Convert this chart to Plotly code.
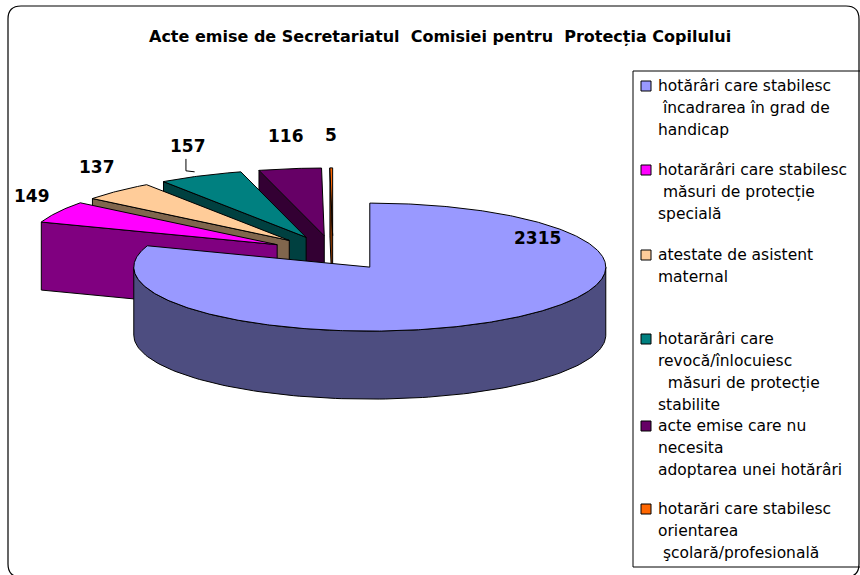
import numpy as np
import plotly.graph_objects as go

# ---------------- data ----------------
title_text = "Acte emise de Secretariatul\u00a0 Comisiei pentru\u00a0 Protecția Copilului"
legend_labels = [
    "hotărâri care stabilesc<br>\u00a0încadrarea în grad de<br>handicap",
    "hotarărâri care stabilesc<br>\u00a0măsuri de protecție<br>specială",
    "atestate de asistent<br>maternal",
    "hotarărâri care<br>revocă/înlocuiesc<br>\u00a0\u00a0măsuri de protecție<br>stabilite",
    "acte emise care nu<br>necesita<br>adoptarea unei hotărâri",
    "hotarări care stabilesc<br>orientarea<br>\u00a0şcolară/profesională",
]
values = [2315, 149, 137, 157, 116, 5]
top_colors = ["#9999FF", "#FF00FF", "#FFCC99", "#008080", "#660066", "#FF6600"]
side_colors = ["#4D4D80", "#800080", "#80664D", "#004040", "#330033", "#803300"]

# ---------------- geometry (pixel-like axis units) ----------------
CX, CY = 333.0, 253.0      # pie centre
A, B = 236.0, 64.0         # ellipse semi-axes of top face
H = 68.0                   # pie thickness
EXPLODE = 0.27
BACK_SCALE = 1.06          # exploded back slices drawn slightly larger

total = float(sum(values))
angles = np.cumsum([0.0] + [v / total * 360.0 for v in values])


def rim(apex, th, sc=1.0, r=1.0):
    t = np.radians(th)
    return apex[0] + r * sc * A * np.sin(t), apex[1] - r * sc * B * np.cos(t)


slices = []
for i, v in enumerate(values):
    ts, te = angles[i], angles[i + 1]
    mid = (ts + te) / 2
    apex = (CX + EXPLODE * A * np.sin(np.radians(mid)),
            CY - EXPLODE * B * np.cos(np.radians(mid)))
    sc = 1.0 if v == max(values) else BACK_SCALE
    slices.append(dict(i=i, ts=ts, te=te, mid=mid, apex=apex, sc=sc))

fig = go.Figure()


def poly(xs, ys, fill):
    fig.add_trace(go.Scatter(
        x=list(xs) + [xs[0]], y=list(ys) + [ys[0]], mode="lines", fill="toself",
        fillcolor=fill, line=dict(color="black", width=1),
        hoverinfo="skip", showlegend=False))


# back to front
for s in sorted(slices, key=lambda s: s["apex"][1]):
    i, ts, te, apex, sc = s["i"], s["ts"], s["te"], s["apex"], s["sc"]
    ax, ay = apex
    walls = []
    if np.cos(np.radians(ts - 90)) < -1e-6:
        walls.append(ts)
    if np.cos(np.radians(te + 90)) < -1e-6:
        walls.append(te)
    for th in walls:
        rx, ry = rim(apex, th, sc)
        poly([ax, rx, rx, ax], [ay, ry, ry + H, ay + H], side_colors[i])
    lo, hi = max(ts, 90.0), min(te, 270.0)
    if lo < hi:
        th = np.linspace(lo, hi, 120)
        xt, yt = rim(apex, th, sc)
        xs = np.concatenate([xt, xt[::-1]])
        ys = np.concatenate([yt, (yt + H)[::-1]])
        poly(xs, ys, side_colors[i])
    th = np.linspace(ts, te, max(4, int((te - ts) * 2)))
    xt, yt = rim(apex, th, sc)
    poly(np.concatenate([[ax], xt]), np.concatenate([[ay], yt]), top_colors[i])

annotations = []
LABEL_FONT = "DejaVu Sans, Verdana, sans-serif"
for s in slices:
    i = s["i"]
    if i == 0:
        continue
    t = np.radians(s["mid"])
    lx = s["apex"][0] + 1.12 * s["sc"] * A * np.sin(t)
    ly = s["apex"][1] - (s["sc"] * B + 33) * np.cos(t)
    annotations.append(dict(x=lx, y=ly, xref="x", yref="y", text="<b>%d</b>" % values[i],
                            showarrow=False, font=dict(size=17, color="black", family=LABEL_FONT)))
    if i == 3:  # leader line for the teal label
        rx, ry = rim(s["apex"], s["mid"], s["sc"])
        fig.add_trace(go.Scatter(x=[lx - 2, lx - 2, rx - 6], y=[ly + 13, ry - 5, ry - 4],
                                 mode="lines", line=dict(color="black", width=1),
                                 hoverinfo="skip", showlegend=False))

annotations.append(dict(x=537, y=238, xref="x", yref="y", text="<b>%d</b>" % values[0],
                        showarrow=False, font=dict(size=17, color="black", family=LABEL_FONT)))

annotations.append(dict(x=440, y=36, xref="x", yref="y", text="<b>" + title_text + "</b>",
                        showarrow=False, font=dict(size=16, color="black", family=LABEL_FONT)))

shapes = []
x0, y0, x1, y1, r = 8, 6, 859, 577, 13
shapes.append(dict(type="path", xref="x", yref="y",
                   path=f"M {x0+r},{y0} L {x1-r},{y0} Q {x1},{y0} {x1},{y0+r} L {x1},{y1-r} "
                        f"Q {x1},{y1} {x1-r},{y1} L {x0+r},{y1} Q {x0},{y1} {x0},{y1-r} "
                        f"L {x0},{y0+r} Q {x0},{y0} {x0+r},{y0} Z",
                   line=dict(color="black", width=1.2), fillcolor="rgba(0,0,0,0)", layer="below"))
shapes.append(dict(type="rect", xref="x", yref="y", x0=633, y0=71, x1=862, y1=567,
                   line=dict(color="black", width=1), fillcolor="rgba(0,0,0,0)"))
legend_item_y = [86, 170, 255, 339, 426, 509]
LINE_STEP = 22
for i, lab in enumerate(legend_labels):
    yc = legend_item_y[i]
    shapes.append(dict(type="rect", xref="x", yref="y", x0=641, x1=651, y0=yc - 5, y1=yc + 5,
                       fillcolor=top_colors[i], line=dict(color="black", width=1)))
    for k, line in enumerate(lab.split("<br>")):
        annotations.append(dict(x=656, y=yc + k * LINE_STEP, xref="x", yref="y", text=line,
                                xanchor="left", showarrow=False,
                                font=dict(size=15.5, color="black", family=LABEL_FONT)))

fig.update_layout(
    width=860, height=575, margin=dict(l=0, r=0, t=0, b=0),
    paper_bgcolor="white", plot_bgcolor="white",
    font=dict(family=LABEL_FONT),
    xaxis=dict(range=[0, 860], visible=False, fixedrange=True),
    yaxis=dict(range=[575, 0], visible=False, fixedrange=True),
    shapes=shapes, annotations=annotations, showlegend=False,
)

fig.write_html("out.html", config={"displayModeBar": False},
               post_script="document.body.style.margin='0';document.body.style.overflow='hidden';")
